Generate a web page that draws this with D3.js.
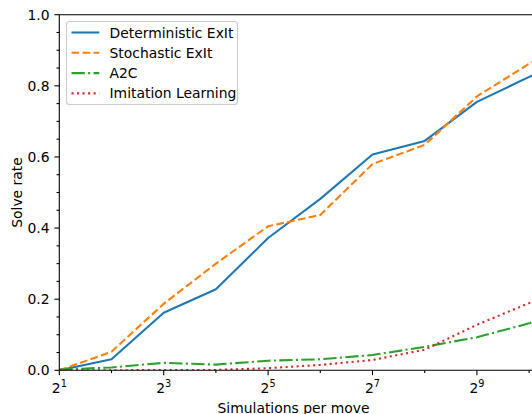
<!DOCTYPE html>
<html>
<head>
<meta charset="utf-8">
<script src="https://cdn.jsdelivr.net/npm/d3@7"></script>
<style>
  body { margin: 0; background: #fff; }
  svg { display: block; font-family: "DejaVu Sans", sans-serif; }
</style>
</head>
<body>
<svg id="chart" width="532" height="414"></svg>
<script>
// simulations per move, as powers of two
const exponents = [1, 2, 3, 4, 5, 6, 7, 8, 9, 10, 11];

const deterministic = [0.0, 0.031, 0.162, 0.228, 0.372, 0.482, 0.607, 0.645, 0.755, 0.825, 0.89];
const stochastic    = [0.0, 0.052, 0.187, 0.300, 0.405, 0.437, 0.580, 0.634, 0.770, 0.862, 0.94];
const a2c           = [0.002, 0.008, 0.021, 0.016, 0.027, 0.031, 0.043, 0.066, 0.093, 0.132, 0.19];
const imitation     = [0.0, 0.0, 0.001, 0.001, 0.006, 0.015, 0.029, 0.058, 0.128, 0.189, 0.26];

const seriesNames = ['Deterministic ExIt', 'Stochastic ExIt', 'A2C', 'Imitation Learning'];
const yTicks = [0, 0.2, 0.4, 0.6, 0.8, 1.0];
const xTickExps = [1, 3, 5, 7, 9];

const series = [
  { name: seriesNames[0], values: deterministic, color: '#1f77b4', dash: null },
  { name: seriesNames[1], values: stochastic,    color: '#ff7f0e', dash: '7.7,3.33' },
  { name: seriesNames[2], values: a2c,           color: '#2ca02c', dash: '13.3,3.33,2.08,3.33' },
  { name: seriesNames[3], values: imitation,     color: '#d62728', dash: '2.08,3.44' },
];

const svg = d3.select('#chart');
const plotLeft = 59.3, plotTop = 14.7, plotBottom = 370.3;
const step = 52.2;               // px per doubling
const plotRight = 533.5;         // axes run just past the picture edge

const x = d3.scaleLog().base(2)
    .domain([2, Math.pow(2, 1 + (plotRight - plotLeft) / step)])
    .range([plotLeft, plotRight]);
const y = d3.scaleLinear().domain([0, 1]).range([plotBottom, plotTop]);

svg.append('clipPath').attr('id', 'plot-clip')
  .append('rect').attr('x', plotLeft).attr('y', plotTop)
  .attr('width', plotRight - plotLeft).attr('height', plotBottom - plotTop);

const fontSize = 13.9;

// y ticks (major + minor)
const yAxis = svg.append('g');
d3.range(0, 1.0001, 0.05).forEach(v => {
  const major = yTicks.some(t => Math.abs(t - v) < 1e-6);
  yAxis.append('line')
    .attr('x1', plotLeft).attr('x2', plotLeft - (major ? 4.86 : 2.78))
    .attr('y1', y(v)).attr('y2', y(v))
    .attr('stroke', '#000').attr('stroke-width', 1.1);
});
yAxis.selectAll('text.yt')
  .data(yTicks)
  .join('text')
  .attr('class', 'yt')
  .attr('x', plotLeft - 9.7)
  .attr('y', d => y(d))
  .attr('dy', '0.36em')
  .attr('text-anchor', 'end')
  .attr('font-size', fontSize)
  .text(d => d.toFixed(1));

// x ticks: odd powers labelled, even powers as minor
const xAxis = svg.append('g');
d3.range(1, 11).forEach(e => {
  const major = xTickExps.includes(e);
  xAxis.append('line')
    .attr('x1', x(Math.pow(2, e))).attr('x2', x(Math.pow(2, e)))
    .attr('y1', plotBottom).attr('y2', plotBottom + (major ? 4.86 : 2.78))
    .attr('stroke', '#000').attr('stroke-width', 1.1);
});
xTickExps.forEach(e => {
  const t = xAxis.append('text')
    .attr('x', x(Math.pow(2, e)))
    .attr('y', plotBottom + 22.5)
    .attr('text-anchor', 'middle')
    .attr('font-size', fontSize);
  t.append('tspan').text('2');
  t.append('tspan').attr('font-size', fontSize * 0.7).attr('dy', -5.5).text(e);
});

// lines
const line = d3.line()
    .x((d, i) => x(Math.pow(2, exponents[i])))
    .y(d => y(d));

const plot = svg.append('g').attr('clip-path', 'url(#plot-clip)');
series.forEach(s => {
  plot.append('path')
    .attr('d', line(s.values))
    .attr('fill', 'none')
    .attr('stroke', s.color)
    .attr('stroke-width', 2.08)
    .attr('stroke-dasharray', s.dash)
    .attr('stroke-linejoin', 'round');
});

// spines
svg.append('line').attr('x1', plotLeft).attr('x2', plotRight).attr('y1', plotTop).attr('y2', plotTop)
  .attr('stroke', '#000').attr('stroke-width', 1.1);
svg.append('line').attr('x1', plotLeft).attr('x2', plotRight).attr('y1', plotBottom).attr('y2', plotBottom)
  .attr('stroke', '#000').attr('stroke-width', 1.1);
svg.append('line').attr('x1', plotLeft).attr('x2', plotLeft).attr('y1', plotTop).attr('y2', plotBottom)
  .attr('stroke', '#000').attr('stroke-width', 1.1);

// legend
const legend = svg.append('g');
legend.append('rect')
  .attr('x', 66.5).attr('y', 21.5).attr('width', 171).attr('height', 83)
  .attr('rx', 3).attr('fill', '#fff').attr('fill-opacity', 0.8)
  .attr('stroke', '#cccccc').attr('stroke-width', 1.1);
series.forEach((s, i) => {
  const ly = 32.5 + i * 20.3;
  legend.append('line')
    .attr('x1', 71.5).attr('x2', 99.3).attr('y1', ly).attr('y2', ly)
    .attr('stroke', s.color).attr('stroke-width', 2.08)
    .attr('stroke-dasharray', s.dash);
  legend.append('text')
    .attr('x', 109.5).attr('y', ly).attr('dy', '0.36em')
    .attr('font-size', fontSize)
    .text(s.name);
});

// axis labels
svg.append('text')
  .attr('x', 293.5).attr('y', 412.5)
  .attr('text-anchor', 'middle').attr('font-size', fontSize)
  .text('Simulations per move');
svg.append('text')
  .attr('transform', `translate(21.5,${(plotTop + plotBottom) / 2}) rotate(-90)`)
  .attr('text-anchor', 'middle').attr('font-size', fontSize)
  .text('Solve rate');
</script>
</body>
</html>
